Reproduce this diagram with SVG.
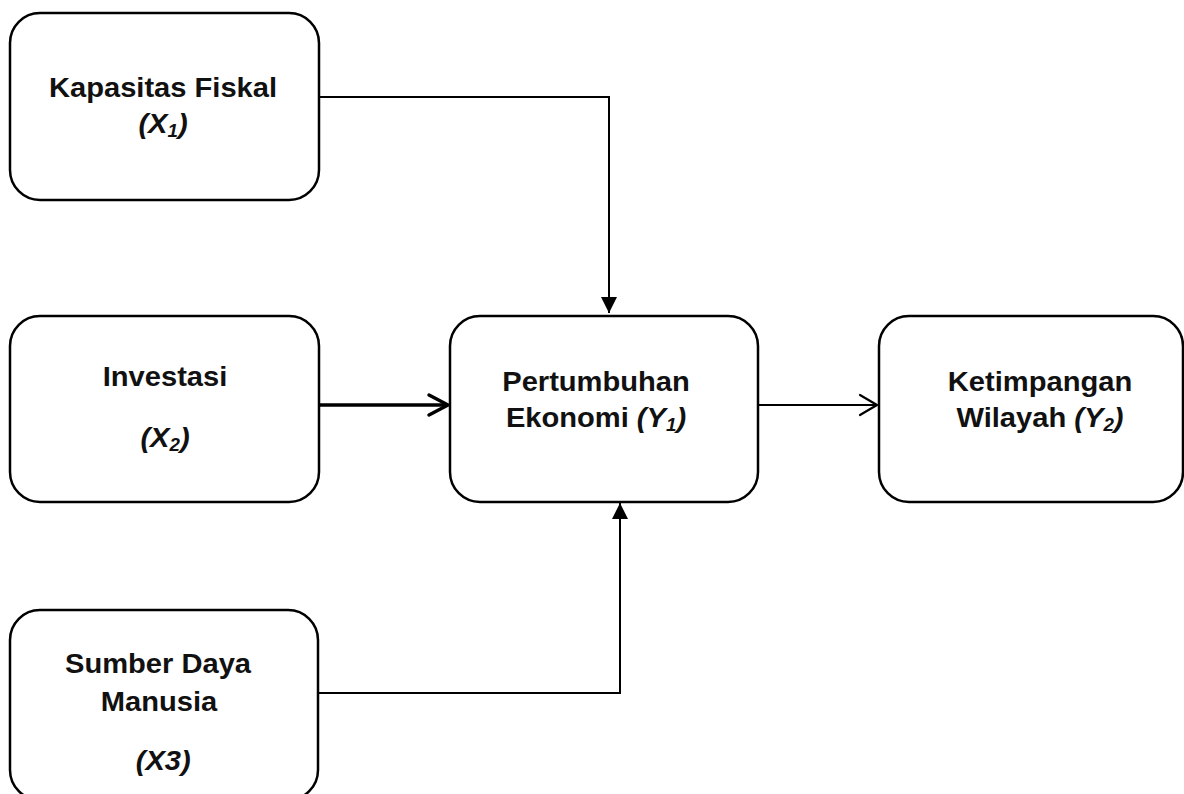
<svg xmlns="http://www.w3.org/2000/svg" width="1184" height="794" viewBox="0 0 1184 794">
<style>
.box{fill:#fff;stroke:#000;stroke-width:2.5}
.lbl{font-family:"Liberation Sans",Arial,sans-serif;font-weight:bold;font-size:28px;fill:#111;text-anchor:middle}
.it{font-style:italic}
.sub{font-size:18px}
.con{fill:none;stroke:#000;stroke-width:2}
</style>
<defs>
<marker id="tri" viewBox="0 0 16 16" refX="16" refY="8" markerWidth="16" markerHeight="16" markerUnits="userSpaceOnUse" orient="auto">
<path d="M0,0 L16,8 L0,16 z" fill="#000"/>
</marker>
<marker id="vthick" viewBox="-3 -3 25 27" refX="19" refY="10" markerWidth="25" markerHeight="27" markerUnits="userSpaceOnUse" orient="auto">
<path d="M0,0 L19,10 L0,20" fill="none" stroke="#000" stroke-width="3.5" stroke-linecap="round" stroke-linejoin="round"/>
</marker>
<marker id="vthin" viewBox="-3 -3 23 26" refX="17" refY="10" markerWidth="23" markerHeight="26" markerUnits="userSpaceOnUse" orient="auto">
<path d="M0,0 L17,10 L0,20" fill="none" stroke="#000" stroke-width="2.2" stroke-linecap="round" stroke-linejoin="round"/>
</marker>
</defs>
<rect width="1184" height="794" fill="#fff"/>
<g id="connectors">
<path class="con" d="M319,97 H609 V313" marker-end="url(#tri)"/>
<path class="con" d="M319,405 H448" style="stroke-width:3.5" marker-end="url(#vthick)"/>
<path class="con" d="M758,405 H877" marker-end="url(#vthin)"/>
<path class="con" d="M318,693 H620 V503" marker-end="url(#tri)"/>
</g>
<g id="node-x1">
<rect class="box" x="10" y="13" width="309" height="187" rx="30"/>
<g transform="translate(163,0) scale(1.04,1)">
<text class="lbl" x="0" y="97">Kapasitas Fiskal</text>
<text class="lbl it" x="0" y="133">(X<tspan class="sub" dy="4">1</tspan><tspan dy="-4">)</tspan></text>
</g>
</g>
<g id="node-x2">
<rect class="box" x="10" y="316" width="309" height="186" rx="30"/>
<g transform="translate(165,0) scale(1.04,1)">
<text class="lbl" x="0" y="386">Investasi</text>
<text class="lbl it" x="0" y="447">(X<tspan class="sub" dy="4">2</tspan><tspan dy="-4">)</tspan></text>
</g>
</g>
<g id="node-y1">
<rect class="box" x="450" y="316" width="308" height="186" rx="30"/>
<g transform="translate(596,0) scale(1.04,1)">
<text class="lbl" x="0" y="391">Pertumbuhan</text>
<text class="lbl" x="0" y="427">Ekonomi <tspan class="it">(Y<tspan class="sub" dy="4">1</tspan><tspan dy="-4">)</tspan></tspan></text>
</g>
</g>
<g id="node-y2">
<rect class="box" x="879" y="316" width="304" height="186" rx="30"/>
<g transform="translate(1040,0) scale(1.04,1)">
<text class="lbl" x="0" y="391">Ketimpangan</text>
<text class="lbl" x="0" y="427">Wilayah <tspan class="it">(Y<tspan class="sub" dy="4">2</tspan><tspan dy="-4">)</tspan></tspan></text>
</g>
</g>
<g id="node-x3">
<rect class="box" x="10" y="610" width="308" height="190" rx="30"/>
<g transform="translate(158,0) scale(1.04,1)">
<text class="lbl" x="0" y="673">Sumber Daya</text>
<text class="lbl" x="1" y="711">Manusia</text>
<text class="lbl it" x="5" y="770">(X3)</text>
</g>
</g>
</svg>
